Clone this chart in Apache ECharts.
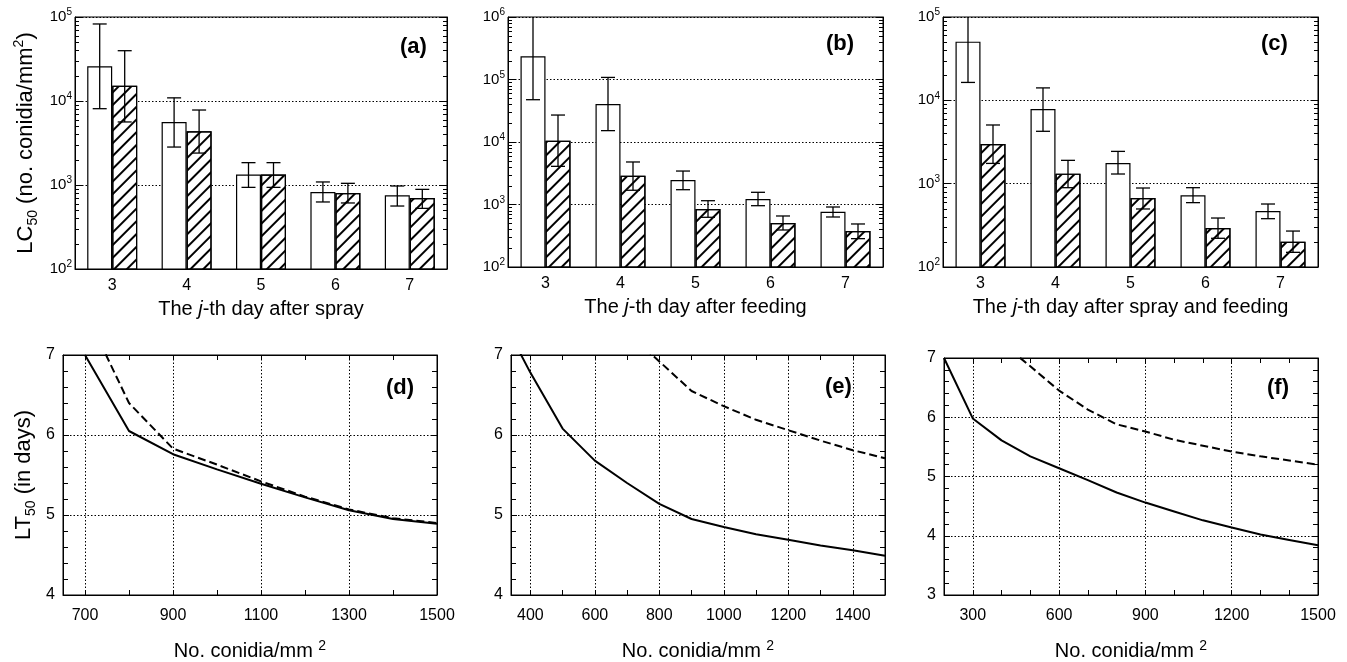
<!DOCTYPE html>
<html><head><meta charset="utf-8">
<script src="https://cdn.jsdelivr.net/npm/echarts@6/dist/echarts.min.js"></script>
<style>html,body{margin:0;padding:0;background:#fff}#c{width:1347px;height:662px}</style>
</head><body><div id="c"></div>
<script>
// ---------- data ----------
const days = ['3', '4', '5', '6', '7'];
// panel (a): after spray
const aWhite   = [25900, 5630, 1330, 826, 753];
const aWhiteLo = [8100, 2830, 937, 628, 562];
const aWhiteHi = [82600, 10900, 1845, 1087, 973];
const aHatch   = [15200, 4350, 1330, 803, 700];
const aHatchLo = [5630, 2400, 937, 611, 527];
const aHatchHi = [39700, 7810, 1845, 1047, 887];
// panel (b): after feeding
const bWhite   = [235000, 40500, 2470, 1225, 767];
const bWhiteLo = [47500, 15200, 1725, 957, 631];
const bWhiteHi = [1200000, 108000, 3430, 1567, 912];
const bHatch   = [10500, 2890, 847, 506, 377];
const bHatchLo = [4080, 1690, 624, 391, 284];
const bHatchHi = [27000, 4790, 1150, 655, 488];
// panel (c): after spray and feeding
const cWhite   = [50600, 7870, 1770, 724, 470];
const cWhiteLo = [16400, 4250, 1306, 592, 380];
const cWhiteHi = [120000, 14100, 2440, 895, 570];
const cHatch   = [2990, 1318, 673, 294, 201];
const cHatchLo = [1750, 895, 497, 221, 150];
const cHatchHi = [5060, 1905, 887, 387, 270];
// panel (d)
const dX      = [700, 800, 900, 1000, 1100, 1200, 1300, 1400, 1500];
const dSolid  = [7.0, 6.05, 5.76, 5.57, 5.39, 5.22, 5.06, 4.95, 4.89];
const dDashed = [7.55, 6.4, 5.83, 5.63, 5.42, 5.23, 5.07, 4.96, 4.90];
// panel (e)
const eX       = [300, 400, 500, 600, 700, 800, 900, 1000, 1100, 1200, 1300, 1400, 1500];
const eSolid   = [7.55, 6.78, 6.08, 5.68, 5.40, 5.14, 4.95, 4.85, 4.76, 4.69, 4.62, 4.56, 4.49];
const eDashX   = [700, 800, 900, 1000, 1100, 1200, 1300, 1400, 1500];
const eDashed  = [7.28, 6.92, 6.55, 6.36, 6.19, 6.06, 5.93, 5.81, 5.71];
// panel (f)
const fX       = [200, 300, 400, 500, 600, 700, 800, 900, 1000, 1100, 1200, 1300, 1400, 1500];
const fSolid   = [7.0, 5.98, 5.61, 5.34, 5.14, 4.94, 4.73, 4.56, 4.41, 4.26, 4.14, 4.02, 3.93, 3.84];
const fDashX   = [400, 500, 600, 700, 800, 900, 1000, 1100, 1200, 1300, 1400, 1500];
const fDashed  = [7.26, 6.86, 6.45, 6.13, 5.88, 5.76, 5.62, 5.52, 5.42, 5.34, 5.27, 5.20];
// ticks
const logMinorTicks = [200,300,400,500,600,700,800,900,2000,3000,4000,5000,6000,7000,8000,9000,
  20000,30000,40000,50000,60000,70000,80000,90000,200000,300000,400000,500000,600000,700000,800000,900000];
const dTicks  = [700, 800, 900, 1000, 1100, 1200, 1300, 1400, 1500];
const dLabels = [700, 900, 1100, 1300, 1500];
const dGrid   = [700, 900, 1100, 1300];
const eTicks  = [400, 500, 600, 700, 800, 900, 1000, 1100, 1200, 1300, 1400, 1500];
const eLabels = [400, 600, 800, 1000, 1200, 1400];
const eGrid   = [400, 600, 800, 1000, 1200, 1400];
const fTicks  = [300, 400, 500, 600, 700, 800, 900, 1000, 1100, 1200, 1300, 1400, 1500];
const fLabels = [300, 600, 900, 1200, 1500];
const fGrid   = [300, 600, 900, 1200];

// ---------- styling helpers ----------
const FF = "'Liberation Sans', Arial, sans-serif";
const BLACK = '#000';
const BAR_W = 25;
const DOT = [1.5, 2];

const nameRich = {
  n:  { fontFamily: FF, fontSize: 20, color: BLACK, lineHeight: 24, verticalAlign: 'middle' },
  i:  { fontFamily: FF, fontSize: 20, color: BLACK, fontStyle: 'italic', lineHeight: 24, verticalAlign: 'middle' },
  sp: { fontFamily: FF, fontSize: 14, color: BLACK, lineHeight: 14, verticalAlign: 'top' },
  sb: { fontFamily: FF, fontSize: 14, color: BLACK, lineHeight: 14, verticalAlign: 'bottom' }
};
const yNameRich = {
  n:  { fontFamily: FF, fontSize: 22, color: BLACK, lineHeight: 28, verticalAlign: 'middle' },
  sp: { fontFamily: FF, fontSize: 14, color: BLACK, lineHeight: 14, verticalAlign: 'top' },
  sb: { fontFamily: FF, fontSize: 14, color: BLACK, lineHeight: 14, verticalAlign: 'bottom' }
};
const logLabelRich = {
  b: { fontFamily: FF, fontSize: 15, color: BLACK, lineHeight: 19, verticalAlign: 'middle' },
  s: { fontFamily: FF, fontSize: 10, color: BLACK, lineHeight: 10, verticalAlign: 'top' }
};

function barX(gi, name) {
  return {
    gridIndex: gi, type: 'category', data: days,
    axisLine: { show: true, lineStyle: { color: BLACK, width: 1 } },
    axisTick: { show: false },
    axisLabel: { color: BLACK, fontSize: 16, fontFamily: FF, margin: 9 },
    splitLine: { show: false },
    name: name, nameLocation: 'middle', nameGap: 28,
    nameTextStyle: { fontFamily: FF, fontSize: 20, color: BLACK, rich: nameRich }
  };
}
function logY(gi, max, pos, main) {
  return {
    gridIndex: gi, type: 'log', logBase: 10, min: 100, max: max, position: pos,
    axisLine: { show: true, onZero: false, lineStyle: { color: BLACK, width: 1 } },
    axisTick: { show: true, inside: true, length: 7, lineStyle: { color: BLACK } },
    axisLabel: {
      show: main, margin: 3,
      formatter: v => '{b|10}{s|' + Math.round(Math.log10(v)) + '}',
      rich: logLabelRich
    },
    splitLine: { show: main, lineStyle: { type: DOT, color: BLACK, width: 1 } }
  };
}
function linX(gi, min, max, ticks, labels, pos, main) {
  return {
    gridIndex: gi, type: 'value', min: min, max: max, position: pos,
    axisLine: { show: true, onZero: false, lineStyle: { color: BLACK, width: 1 } },
    axisTick: { show: true, inside: true, length: 5, customValues: ticks, lineStyle: { color: BLACK } },
    axisLabel: { show: main, customValues: labels, color: BLACK, fontSize: 16, fontFamily: FF, margin: 13,
      formatter: v => String(v) },
    splitLine: { show: false },
    name: main ? '{n|No. conidia/mm }{sp|2}' : '', nameLocation: 'middle', nameGap: 44,
    nameTextStyle: { fontFamily: FF, fontSize: 20, color: BLACK, rich: nameRich }
  };
}
function linY(gi, min, max, pos, main) {
  return {
    gridIndex: gi, type: 'value', min: min, max: max, interval: 1, position: pos,
    axisLine: { show: true, onZero: false, lineStyle: { color: BLACK, width: 1 } },
    axisTick: { show: true, inside: true, length: 6, lineStyle: { color: BLACK } },
    minorTick: { show: true, splitNumber: 5, length: 5, lineStyle: { color: BLACK } },
    axisLabel: { show: main, color: BLACK, fontSize: 16, fontFamily: FF, margin: 8 },
    splitLine: { show: main, lineStyle: { type: DOT, color: BLACK, width: 1 } }
  };
}

const hatchDecal = {
  symbol: 'rect', symbolSize: 1, dashArrayX: [1, 0], dashArrayY: [2, 7],
  rotation: -Math.PI / 4, color: BLACK
};

function barSeries(xi, yi, vals, hatched) {
  return {
    type: 'bar', xAxisIndex: xi, yAxisIndex: yi, data: vals,
    barWidth: BAR_W, barGap: '0%',
    itemStyle: Object.assign({ color: '#fff', borderColor: BLACK, borderWidth: 1.2 },
      hatched ? { decal: hatchDecal } : {}),
    silent: true, z: 2
  };
}
function errRender(offset) {
  return function (params, api) {
    const x = api.value(0);
    const lo = api.coord([x, api.value(1)]);
    const hi = api.coord([x, api.value(2)]);
    const cx = lo[0] + offset;
    const cap = 7;
    const st = { stroke: BLACK, lineWidth: 1.3 };
    return { type: 'group', children: [
      { type: 'line', shape: { x1: cx, y1: hi[1], x2: cx, y2: lo[1] }, style: st },
      { type: 'line', shape: { x1: cx - cap, y1: hi[1], x2: cx + cap, y2: hi[1] }, style: st },
      { type: 'line', shape: { x1: cx - cap, y1: lo[1], x2: cx + cap, y2: lo[1] }, style: st }
    ] };
  };
}
function errSeries(xi, yi, lo, hi, offset) {
  return {
    type: 'custom', xAxisIndex: xi, yAxisIndex: yi, clip: true, silent: true, z: 5,
    encode: { x: 0, y: [1, 2] },
    renderItem: errRender(offset),
    data: days.map((d, i) => [i, lo[i], hi[i]])
  };
}
function minorLogSeries(xi, yi, max) {
  return {
    type: 'custom', xAxisIndex: xi, yAxisIndex: yi, clip: true, silent: true, z: 6,
    encode: { x: 0, y: 1 },
    renderItem: function (params, api) {
      const p = api.coord([0, api.value(1)]);
      const cs = params.coordSys;
      const y = Math.round(p[1]) + 0.5;
      const st = { stroke: BLACK, lineWidth: 1 };
      return { type: 'group', children: [
        { type: 'line', shape: { x1: cs.x, y1: y, x2: cs.x + 4, y2: y }, style: st },
        { type: 'line', shape: { x1: cs.x + cs.width - 4, y1: y, x2: cs.x + cs.width, y2: y }, style: st }
      ] };
    },
    data: logMinorTicks.filter(v => v < max).map(v => [0, v])
  };
}
function lineSeries(xi, yi, xs, ys, dashed, grid) {
  const s = {
    type: 'line', xAxisIndex: xi, yAxisIndex: yi, showSymbol: false, symbol: 'none',
    data: xs.map((x, i) => [x, ys[i]]), clip: true, silent: true, z: 4,
    lineStyle: { color: BLACK, width: 2, type: dashed ? [8, 4] : 'solid' }
  };
  if (grid) {
    s.markLine = {
      silent: true, symbol: ['none', 'none'], label: { show: false }, animation: false,
      emphasis: { disabled: true },
      lineStyle: { type: DOT, color: BLACK, width: 1, opacity: 1 },
      data: grid.map(v => ({ xAxis: v }))
    };
  }
  return s;
}
function panelLabel(text, cx, cy) {
  return { type: 'text', left: cx - 16, top: cy - 12,
    style: { text: text, fontFamily: FF, fontSize: 22, fontWeight: 'bold', fill: BLACK } };
}

const gridBase = { show: true, borderColor: BLACK, borderWidth: 1, backgroundColor: 'rgba(0,0,0,0)', containLabel: false };
const option = {
  animation: false,
  backgroundColor: '#fff',
  grid: [
    Object.assign({ left: 75, top: 17, width: 372, height: 252 }, gridBase),
    Object.assign({ left: 508, top: 17, width: 375, height: 250 }, gridBase),
    Object.assign({ left: 943, top: 17, width: 375, height: 250 }, gridBase),
    Object.assign({ left: 63, top: 355, width: 374, height: 250 }, gridBase),
    Object.assign({ left: 511, top: 355, width: 374, height: 250 }, gridBase),
    Object.assign({ left: 944, top: 358, width: 374, height: 249 }, gridBase)
  ],
  xAxis: [
    barX(0, '{n|The }{i|j}{n|-th day after spray}'),
    barX(1, '{n|The }{i|j}{n|-th day after feeding}'),
    barX(2, '{n|The }{i|j}{n|-th day after spray and feeding}'),
    linX(3, 650, 1500, dTicks, dLabels, 'bottom', true),
    linX(3, 650, 1500, dTicks, dLabels, 'top', false),
    linX(4, 340, 1500, eTicks, eLabels, 'bottom', true),
    linX(4, 340, 1500, eTicks, eLabels, 'top', false),
    linX(5, 200, 1500, fTicks, fLabels, 'bottom', true),
    linX(5, 200, 1500, fTicks, fLabels, 'top', false)
  ],
  yAxis: [
    Object.assign(logY(0, 100000, 'left', true), {
      name: '{n|LC}{sb|50}{n| (no. conidia/mm}{sp|2}{n|)}', nameLocation: 'middle', nameGap: 35, nameRotate: 90,
      nameTextStyle: { fontFamily: FF, fontSize: 22, color: BLACK, rich: yNameRich }
    }),
    logY(0, 100000, 'right', false),
    logY(1, 1000000, 'left', true),
    logY(1, 1000000, 'right', false),
    logY(2, 100000, 'left', true),
    logY(2, 100000, 'right', false),
    Object.assign(linY(3, 4, 7, 'left', true), {
      name: '{n|LT}{sb|50}{n| (in days)}', nameLocation: 'middle', nameGap: 25, nameRotate: 90,
      nameTextStyle: { fontFamily: FF, fontSize: 22, color: BLACK, rich: yNameRich }
    }),
    linY(3, 4, 7, 'right', false),
    linY(4, 4, 7, 'left', true),
    linY(4, 4, 7, 'right', false),
    linY(5, 3, 7, 'left', true),
    linY(5, 3, 7, 'right', false)
  ],
  series: [
    barSeries(0, 0, aWhite, false), barSeries(0, 0, aHatch, true),
    errSeries(0, 0, aWhiteLo, aWhiteHi, -BAR_W / 2), errSeries(0, 0, aHatchLo, aHatchHi, BAR_W / 2),
    minorLogSeries(0, 0, 100000),
    barSeries(1, 2, bWhite, false), barSeries(1, 2, bHatch, true),
    errSeries(1, 2, bWhiteLo, bWhiteHi, -BAR_W / 2), errSeries(1, 2, bHatchLo, bHatchHi, BAR_W / 2),
    minorLogSeries(1, 2, 1000000),
    barSeries(2, 4, cWhite, false), barSeries(2, 4, cHatch, true),
    errSeries(2, 4, cWhiteLo, cWhiteHi, -BAR_W / 2), errSeries(2, 4, cHatchLo, cHatchHi, BAR_W / 2),
    minorLogSeries(2, 4, 100000),
    lineSeries(3, 6, dX, dSolid, false, dGrid), lineSeries(3, 6, dX, dDashed, true, null),
    lineSeries(5, 8, eX, eSolid, false, eGrid), lineSeries(5, 8, eDashX, eDashed, true, null),
    lineSeries(7, 10, fX, fSolid, false, fGrid), lineSeries(7, 10, fDashX, fDashed, true, null)
  ],
  graphic: [
    panelLabel('(a)', 416, 48), panelLabel('(b)', 842, 45), panelLabel('(c)', 1277, 45),
    panelLabel('(d)', 402, 389), panelLabel('(e)', 841, 388), panelLabel('(f)', 1283, 389)
  ]
};
const chart = echarts.init(document.getElementById('c'), null, { renderer: 'canvas' });
chart.setOption(option);
</script></body></html>
